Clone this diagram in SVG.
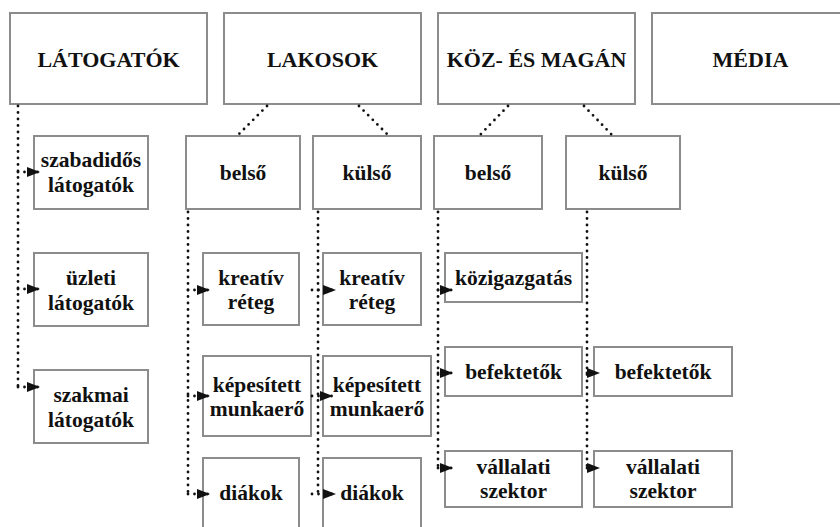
<svg xmlns="http://www.w3.org/2000/svg" width="840" height="527" viewBox="0 0 840 527">
  <style>
    .box { fill: #ffffff; stroke: #8c8c8c; stroke-width: 2; }
    text { font-family: "Liberation Serif", serif; font-weight: bold; fill: #111; text-anchor: middle; }
    .h { font-size: 22px; }
    .s { font-size: 21.5px; }
    .dot { fill: none; stroke: #111; stroke-width: 2.8; stroke-linecap: round; stroke-dasharray: 0 6.5; }
    .arr { fill: none; stroke: #111; stroke-width: 2.8; stroke-linecap: round; stroke-dasharray: 0 6.5; marker-end: url(#head); }
  </style>
  <defs>
    <marker id="head" markerUnits="userSpaceOnUse" markerWidth="14" markerHeight="11" refX="13" refY="5" orient="auto">
      <path d="M0,0 L13,5 L0,10 Z" fill="#111"/>
    </marker>
  </defs>
  <rect width="840" height="527" fill="#ffffff"/>

  <!-- top-level categories -->
  <g id="latogatok"><rect class="box" x="10" y="13" width="197" height="91"/><text class="h" x="108.5" y="67">LÁTOGATÓK</text></g>
  <g id="lakosok"><rect class="box" x="224" y="13" width="197" height="91"/><text class="h" x="322.5" y="67">LAKOSOK</text></g>
  <g id="koz-es-magan"><rect class="box" x="438" y="13" width="197" height="91"/><text class="h" x="536.5" y="67">KÖZ- ÉS MAGÁN</text></g>
  <g id="media"><rect class="box" x="652" y="13" width="197" height="91"/><text class="h" x="750.5" y="67">MÉDIA</text></g>

  <!-- second level -->
  <g id="lakosok-belso"><rect class="box" x="186" y="136" width="114" height="73"/><text class="s" x="243" y="180">belső</text></g>
  <g id="lakosok-kulso"><rect class="box" x="313" y="136" width="108" height="73"/><text class="s" x="367" y="180">külső</text></g>
  <g id="koz-belso"><rect class="box" x="434" y="136" width="108" height="73"/><text class="s" x="488" y="180">belső</text></g>
  <g id="koz-kulso"><rect class="box" x="566" y="136" width="114" height="73"/><text class="s" x="623" y="180">külső</text></g>

  <!-- visitors -->
  <g id="szabadidos"><rect class="box" x="34" y="136" width="114" height="73"/><text class="s"><tspan x="91" y="167">szabadidős</tspan><tspan x="91" y="192">látogatók</tspan></text></g>
  <g id="uzleti"><rect class="box" x="34" y="253" width="114" height="73"/><text class="s"><tspan x="91" y="285">üzleti</tspan><tspan x="91" y="310">látogatók</tspan></text></g>
  <g id="szakmai"><rect class="box" x="34" y="370" width="114" height="73"/><text class="s"><tspan x="91" y="402">szakmai</tspan><tspan x="91" y="427">látogatók</tspan></text></g>

  <!-- residents, internal -->
  <g id="belso-kreativ"><rect class="box" x="203" y="253" width="96" height="72"/><text class="s"><tspan x="251" y="285">kreatív</tspan><tspan x="251" y="309">réteg</tspan></text></g>
  <g id="belso-kepesitett"><rect class="box" x="203" y="356" width="108" height="80"/><text class="s"><tspan x="257" y="392">képesített</tspan><tspan x="257" y="416">munkaerő</tspan></text></g>
  <g id="belso-diakok"><rect class="box" x="203" y="458" width="96" height="80"/><text class="s" x="251" y="500">diákok</text></g>

  <!-- residents, external -->
  <g id="kulso-kreativ"><rect class="box" x="323" y="253" width="98" height="72"/><text class="s"><tspan x="372" y="285">kreatív</tspan><tspan x="372" y="309">réteg</tspan></text></g>
  <g id="kulso-kepesitett"><rect class="box" x="323" y="356" width="108" height="80"/><text class="s"><tspan x="377" y="392">képesített</tspan><tspan x="377" y="416">munkaerő</tspan></text></g>
  <g id="kulso-diakok"><rect class="box" x="323" y="458" width="98" height="80"/><text class="s" x="372" y="500">diákok</text></g>

  <!-- public and private -->
  <g id="kozigazgatas"><rect class="box" x="445" y="253" width="137" height="49"/><text class="s" x="513.5" y="285">közigazgatás</text></g>
  <g id="belso-befektetok"><rect class="box" x="445" y="347" width="137" height="49"/><text class="s" x="513.5" y="379">befektetők</text></g>
  <g id="belso-vallalati"><rect class="box" x="445" y="451" width="137" height="56"/><text class="s"><tspan x="513.5" y="474">vállalati</tspan><tspan x="513.5" y="498">szektor</tspan></text></g>
  <g id="kulso-befektetok"><rect class="box" x="594" y="347" width="138" height="49"/><text class="s" x="663" y="379">befektetők</text></g>
  <g id="kulso-vallalati"><rect class="box" x="594" y="451" width="138" height="56"/><text class="s"><tspan x="663" y="474">vállalati</tspan><tspan x="663" y="498">szektor</tspan></text></g>

  <!-- dotted connectors -->
  <g id="connectors">
    <path class="dot" d="M18,106 V387"/>
    <path class="arr" d="M18,172 H40"/>
    <path class="arr" d="M18,289 H40"/>
    <path class="arr" d="M18,387 H40"/>

    <path class="dot" d="M267,106 L237,136"/>
    <path class="dot" d="M359,106 L389,136"/>
    <path class="dot" d="M508,106 L479,136"/>
    <path class="dot" d="M584,106 L613,136"/>

    <path class="dot" d="M188,212 V494"/>
    <path class="arr" d="M188,290 H210"/>
    <path class="arr" d="M188,396 H210"/>
    <path class="arr" d="M188,494 H210"/>

    <path class="dot" d="M318,212 V494"/>
    <path class="arr" d="M312,290 H336"/>
    <path class="arr" d="M312,396 H333"/>
    <path class="arr" d="M312,494 H336"/>

    <path class="dot" d="M438,212 V468"/>
    <path class="arr" d="M438,290 H453"/>
    <path class="arr" d="M438,373 H453"/>
    <path class="arr" d="M438,468 H453"/>

    <path class="dot" d="M587,212 V468"/>
    <path class="arr" d="M587,373 H600"/>
    <path class="arr" d="M587,468 H600"/>
  </g>
</svg>
